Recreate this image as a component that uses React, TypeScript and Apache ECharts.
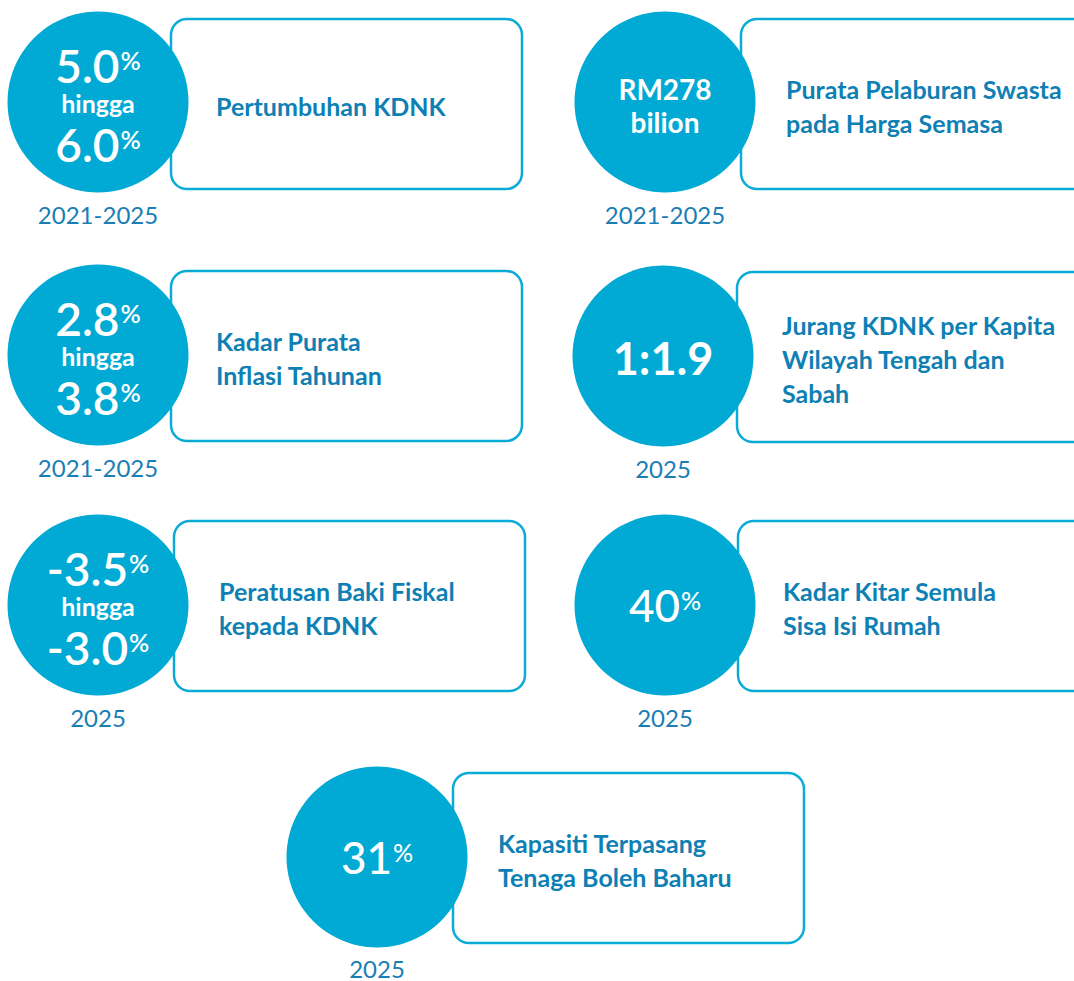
import React, { useEffect, useRef } from "react";
import * as echarts from "echarts";

// ---- Data ----
const indicatorLabels: string[][] = [
  ["Pertumbuhan KDNK"],
  ["Purata Pelaburan Swasta", "pada Harga Semasa"],
  ["Kadar Purata", "Inflasi Tahunan"],
  ["Jurang KDNK per Kapita", "Wilayah Tengah dan", "Sabah"],
  ["Peratusan Baki Fiskal", "kepada KDNK"],
  ["Kadar Kitar Semula", "Sisa Isi Rumah"],
  ["Kapasiti Terpasang", "Tenaga Boleh Baharu"],
];
// target kinds: "range" = low hingga high (%), "money" = RM value, "ratio", "pct"
const targetKinds = ["range", "money", "range", "ratio", "range", "pct", "pct"];
const lowValues = ["5.0", "", "2.8", "", "-3.5", "", ""];
const highValues = ["6.0", "", "3.8", "", "-3.0", "", ""];
const singleValues = ["", "RM278", "", "1:1.9", "", "40", "31"];
const unitWords = ["hingga", "bilion", "hingga", "", "hingga", "", ""];
const periods = ["2021-2025", "2021-2025", "2021-2025", "2025", "2025", "2025", "2025"];

// ---- Layout (positions only) ----
const layouts = [
  { cx: 98, cy: 102, bx: 171, by: 19, bw: 351, bh: 170 },
  { cx: 665, cy: 102, bx: 741, by: 19, bw: 380, bh: 170 },
  { cx: 98, cy: 355, bx: 171, by: 271, bw: 351, bh: 170 },
  { cx: 663, cy: 356, bx: 737, by: 272, bw: 380, bh: 170 },
  { cx: 98, cy: 605, bx: 174, by: 521, bw: 351, bh: 170 },
  { cx: 665, cy: 605, bx: 738, by: 521, bw: 380, bh: 170 },
  { cx: 377, cy: 857, bx: 453, by: 773, bw: 351, bh: 170 },
];

const CIRCLE = "#00AAD4";
const STROKE = "#0AABD6";
const LABEL = "#0E80B4";
const YEAR = "#1A7EB4";
const FONT = "Lato, 'Open Sans', sans-serif";

function buildGraphic() {
  const els: any[] = [];
  layouts.forEach((L, i) => {
    // box
    els.push({
      type: "rect",
      shape: { x: L.bx, y: L.by, width: L.bw, height: L.bh, r: 16 },
      style: { fill: "#ffffff", stroke: STROKE, lineWidth: 2.5 },
      z: 1,
    });
    // label lines
    const lines = indicatorLabels[i];
    const lh = 34;
    const mid = L.by + L.bh / 2 + 2;
    lines.forEach((t, k) => {
      els.push({
        type: "text",
        x: L.bx + 45,
        y: mid + (k - (lines.length - 1) / 2) * lh,
        style: {
          text: t,
          fill: LABEL,
          fontFamily: FONT,
          fontSize: 25,
          lineHeight: 28,
          fontWeight: "bold",
          textAlign: "left",
          textVerticalAlign: "middle",
        },
        z: 3,
      });
    });
    // circle
    els.push({
      type: "circle",
      shape: { cx: L.cx, cy: L.cy, r: 90.5 },
      style: { fill: CIRCLE },
      z: 2,
    });
    const kind = targetKinds[i];
    const pctRich = (size: number, psize: number, weight: any) => ({
      n: { fontSize: size, lineHeight: 36, fontWeight: weight, fill: "#fff", fontFamily: FONT },
      p: { fontSize: psize, lineHeight: 22, fontWeight: weight, fill: "#fff", fontFamily: FONT, verticalAlign: "top", padding: [0, 0, 0, 1] },
    });
    if (kind === "range") {
      els.push({
        type: "text", x: L.cx, y: L.cy - 37, z: 4,
        style: { text: `{n|${lowValues[i]}}{p|%}`, rich: pctRich(46, 25, 600), textAlign: "center", textVerticalAlign: "middle" },
      });
      els.push({
        type: "text", x: L.cx, y: L.cy + 1, z: 4,
        style: { text: unitWords[i], fill: "#fff", fontFamily: FONT, fontSize: 25, lineHeight: 22, fontWeight: "bold", textAlign: "center", textVerticalAlign: "middle" },
      });
      els.push({
        type: "text", x: L.cx, y: L.cy + 42, z: 4,
        style: { text: `{n|${highValues[i]}}{p|%}`, rich: pctRich(46, 25, 600), textAlign: "center", textVerticalAlign: "middle" },
      });
    } else if (kind === "money") {
      els.push({
        type: "text", x: L.cx, y: L.cy - 13, z: 4,
        style: { text: singleValues[i], fill: "#fff", fontFamily: FONT, fontSize: 28, lineHeight: 30, fontWeight: "bold", textAlign: "center", textVerticalAlign: "middle" },
      });
      els.push({
        type: "text", x: L.cx, y: L.cy + 20, z: 4,
        style: { text: unitWords[i], fill: "#fff", fontFamily: FONT, fontSize: 28, lineHeight: 30, fontWeight: "bold", textAlign: "center", textVerticalAlign: "middle" },
      });
    } else if (kind === "ratio") {
      els.push({
        type: "text", x: L.cx, y: L.cy + 2, z: 4,
        style: { text: singleValues[i], fill: "#fff", fontFamily: FONT, fontSize: 45, fontWeight: "bold", textAlign: "center", textVerticalAlign: "middle" },
      });
    } else {
      els.push({
        type: "text", x: L.cx, y: L.cy, z: 4,
        style: { text: `{n|${singleValues[i]}}{p|%}`, rich: pctRich(44, 25, 500), textAlign: "center", textVerticalAlign: "middle" },
      });
    }
    // period
    els.push({
      type: "text", x: L.cx, y: Math.min(L.cy + 112, 968), z: 4,
      style: { text: periods[i], fill: YEAR, fontFamily: FONT, fontSize: 24, lineHeight: 18, fontWeight: "normal", textAlign: "center", textVerticalAlign: "middle" },
    });
  });
  return els;
}

export default function App() {
  const ref = useRef<HTMLDivElement>(null);
  useEffect(() => {
    if (!ref.current) return;
    const chart = echarts.init(ref.current, undefined, { renderer: "svg" });
    chart.setOption({
      animation: false,
      backgroundColor: "#ffffff",
      graphic: { elements: buildGraphic() },
    });
    return () => chart.dispose();
  }, []);
  return (
    <div
      ref={ref}
      style={{ position: "absolute", left: 0, top: 0, width: 1074, height: 981, background: "#fff" }}
    />
  );
}
